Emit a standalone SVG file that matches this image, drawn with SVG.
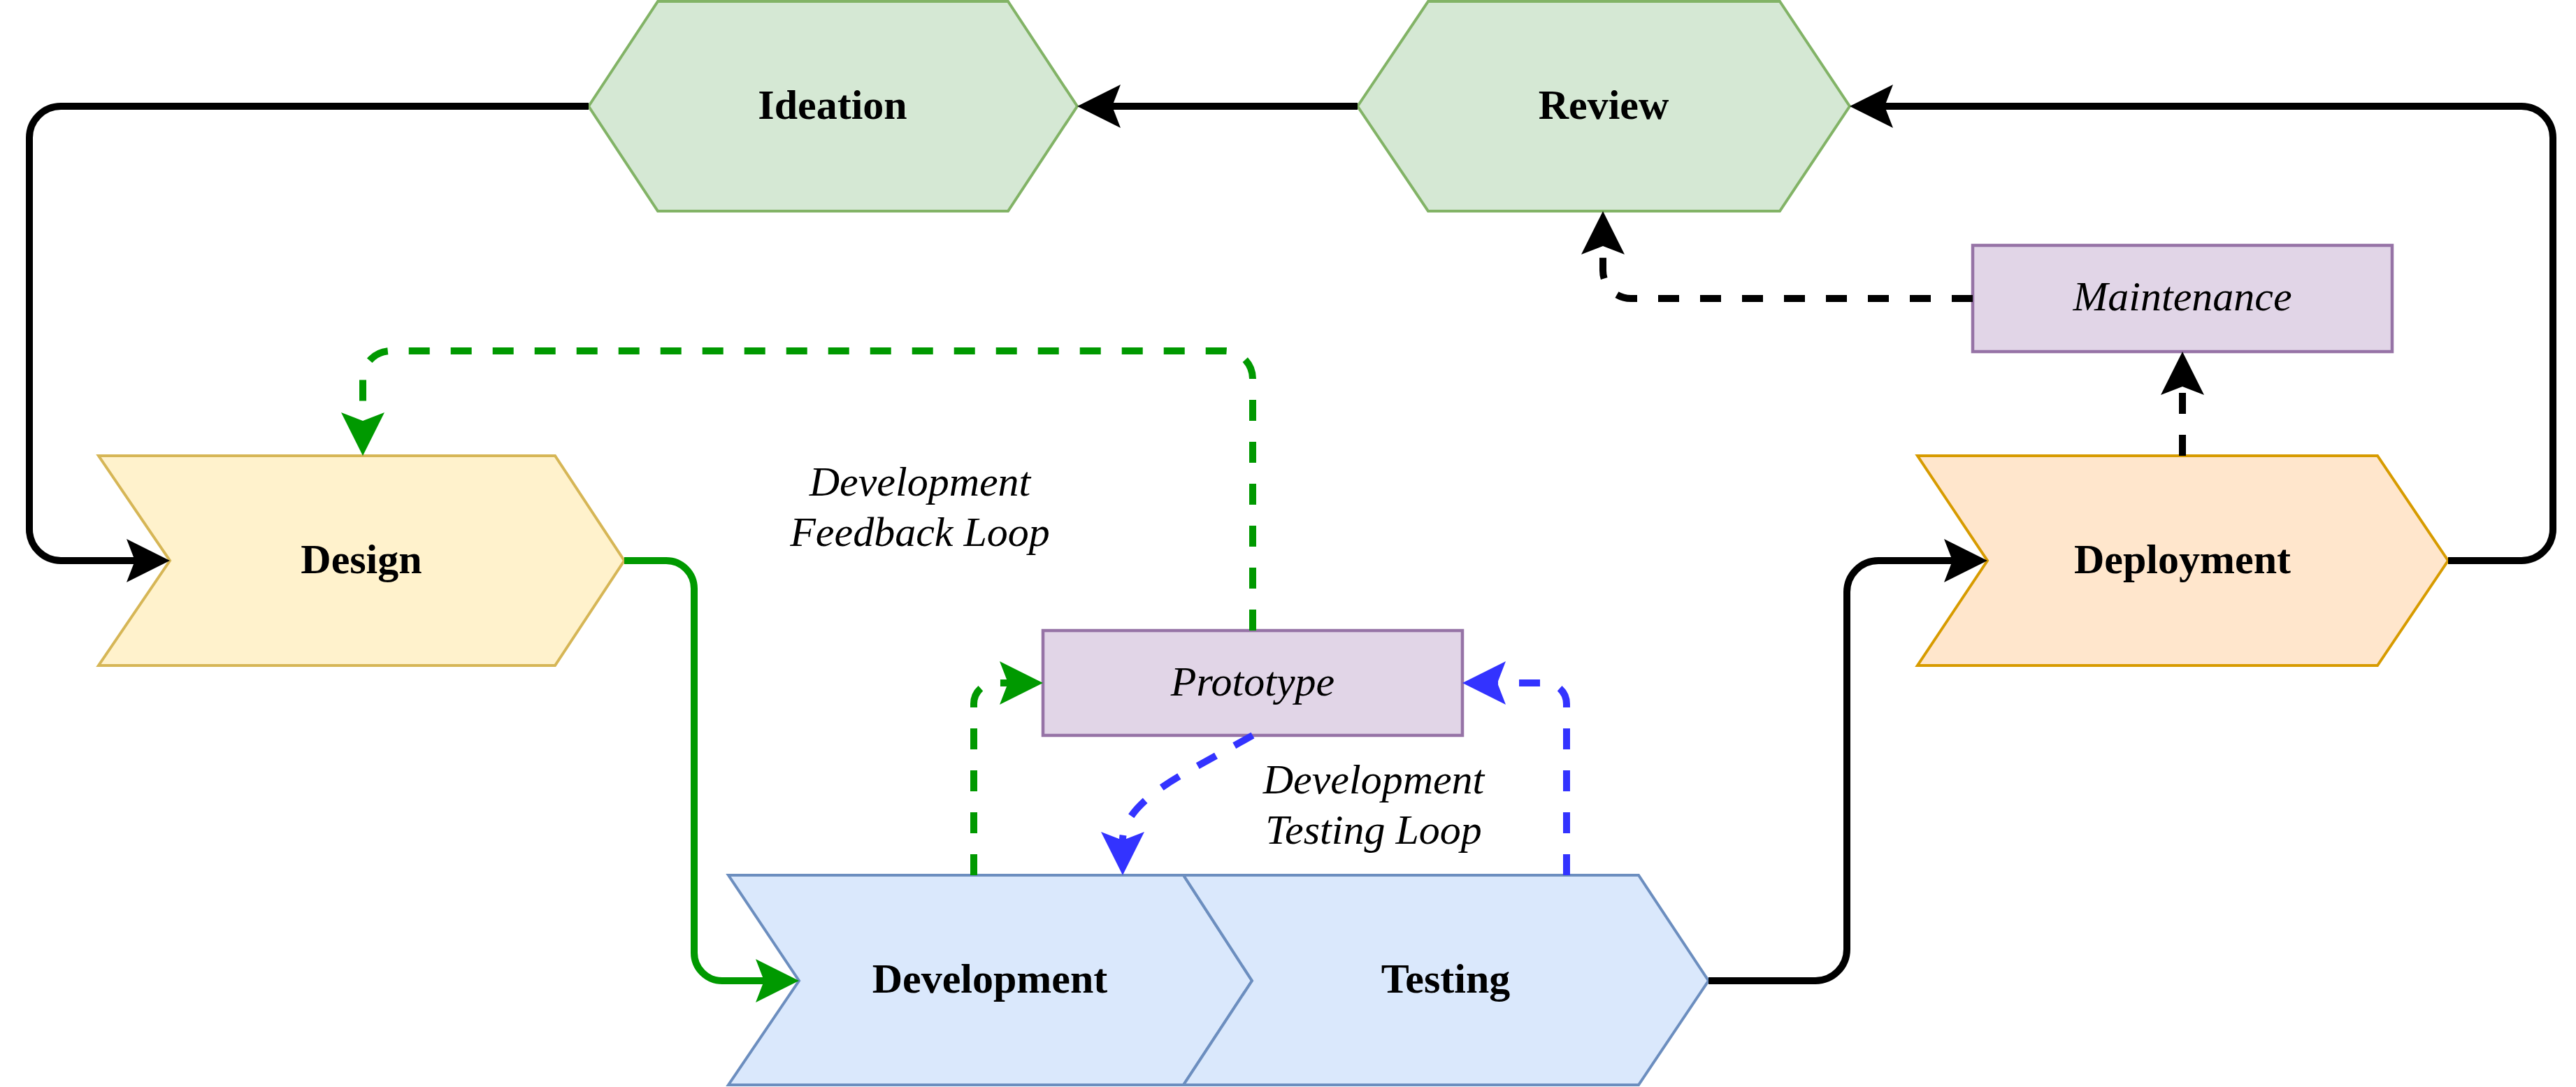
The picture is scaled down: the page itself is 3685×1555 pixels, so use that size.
<svg xmlns="http://www.w3.org/2000/svg" width="3685" height="1555" viewBox="0 0 3685 1555">
<defs>
<style>
.lbl{font-family:"Liberation Serif","Times New Roman",serif;font-size:60px;text-anchor:middle;fill:#000}
.b{font-weight:bold}
.i{font-style:italic}
.green{fill:#d5e8d4;stroke:#82b366;stroke-width:4}
.yellow{fill:#fff2cc;stroke:#d6b656;stroke-width:4}
.blue{fill:#dae8fc;stroke:#6c8ebf;stroke-width:4}
.orange{fill:#ffe6cc;stroke:#d79b00;stroke-width:4}
.purple{fill:#e1d5e7;stroke:#9673a6;stroke-width:4.5}
.edge{fill:none;stroke-width:10;stroke-linejoin:round}
.k{stroke:#000}
.g{stroke:#009900}
.bl{stroke:#3333ff}
.dash{stroke-dasharray:30 30}
</style>
<marker id="ak" markerUnits="userSpaceOnUse" viewBox="-12 -31 62 62" refX="0" refY="0" markerWidth="62" markerHeight="62" orient="auto" overflow="visible"><path d="M50,0 L-12,-31 L0,0 L-12,31 Z" fill="#000"/></marker>
<marker id="ag" markerUnits="userSpaceOnUse" viewBox="-12 -31 62 62" refX="0" refY="0" markerWidth="62" markerHeight="62" orient="auto" overflow="visible"><path d="M50,0 L-12,-31 L0,0 L-12,31 Z" fill="#009900"/></marker>
<marker id="ab" markerUnits="userSpaceOnUse" viewBox="-12 -31 62 62" refX="0" refY="0" markerWidth="62" markerHeight="62" orient="auto" overflow="visible"><path d="M50,0 L-12,-31 L0,0 L-12,31 Z" fill="#3333ff"/></marker>
</defs>
<rect x="0" y="0" width="3685" height="1555" fill="#fff"/>

<g id="ideation">
<polygon class="green" points="842,152 941,2 1442,2 1541,152 1442,302 941,302"/>
<text class="lbl b" x="1191" y="170">Ideation</text>
</g>
<g id="review">
<polygon class="green" points="1942,152 2043,2 2546,2 2646,152 2546,302 2043,302"/>
<text class="lbl b" x="2294" y="170">Review</text>
</g>
<g id="design">
<polygon class="yellow" points="141,652 794,652 893,802 794,952 141,952 243,802"/>
<text class="lbl b" x="517" y="820">Design</text>
</g>
<g id="development">
<polygon class="blue" points="1042,1252 1693,1252 1791,1403 1693,1552 1042,1552 1143,1403"/>
<text class="lbl b" x="1416" y="1420">Development</text>
</g>
<g id="testing">
<polygon class="blue" points="1693,1252 2344,1252 2444,1403 2344,1552 1693,1552 1791,1403"/>
<text class="lbl b" x="2068" y="1420">Testing</text>
</g>
<g id="deployment">
<polygon class="orange" points="2743,652 3401,652 3502,802 3401,952 2743,952 2843,802"/>
<text class="lbl b" x="3122" y="820">Deployment</text>
</g>
<g id="prototype">
<rect class="purple" x="1492" y="902" width="600" height="150"/>
<text class="lbl i" x="1792" y="995">Prototype</text>
</g>
<g id="maintenance">
<rect class="purple" x="2822" y="351" width="600" height="152"/>
<text class="lbl i" x="3122" y="444">Maintenance</text>
</g>
<g id="feedback-label">
<text class="lbl i" x="1316" y="709">Development</text>
<text class="lbl i" x="1316" y="781">Feedback Loop</text>
</g>
<g id="testing-label">
<text class="lbl i" x="1965" y="1135">Development</text>
<text class="lbl i" x="1965" y="1207">Testing Loop</text>
</g>

<g id="connectors">
<path class="edge k" marker-end="url(#ak)" d="M842,152 L87,152 A45,45 0 0 0 42,197 L42,757 A45,45 0 0 0 87,802 L193,802"/>
<path class="edge g" marker-end="url(#ag)" d="M893,802 L953,802 A40,40 0 0 1 993,842 L993,1363 A40,40 0 0 0 1033,1403 L1093,1403"/>
<path class="edge k" marker-end="url(#ak)" d="M2444,1403 L2597,1403 A45,45 0 0 0 2642,1358 L2642,847 A45,45 0 0 1 2687,802 L2793,802"/>
<path class="edge k" marker-end="url(#ak)" d="M3502,802 L3607,802 A45,45 0 0 0 3652,757 L3652,197 A45,45 0 0 0 3607,152 L2696,152"/>
<path class="edge k" marker-end="url(#ak)" d="M1942,152 L1591,152"/>
<path class="edge k dash" marker-end="url(#ak)" d="M3122,652 L3122,553"/>
<path class="edge k dash" marker-end="url(#ak)" d="M2822,427 L2333,427 A40,40 0 0 1 2293,387 L2293,352"/>
<path class="edge g dash" marker-end="url(#ag)" d="M1792,902 L1792,542 A40,40 0 0 0 1752,502 L559,502 A40,40 0 0 0 519,542 L519,602"/>
<path class="edge g dash" marker-end="url(#ag)" d="M1393,1252 L1393,1007 A30,30 0 0 1 1423,977 L1442,977"/>
<path class="edge bl dash" marker-end="url(#ab)" d="M1792,1052 L1700,1103 Q1606,1155 1606,1202"/>
<path class="edge bl dash" marker-end="url(#ab)" d="M2241,1252 L2241,1007 A30,30 0 0 0 2211,977 L2142,977"/>
</g>
</svg>
